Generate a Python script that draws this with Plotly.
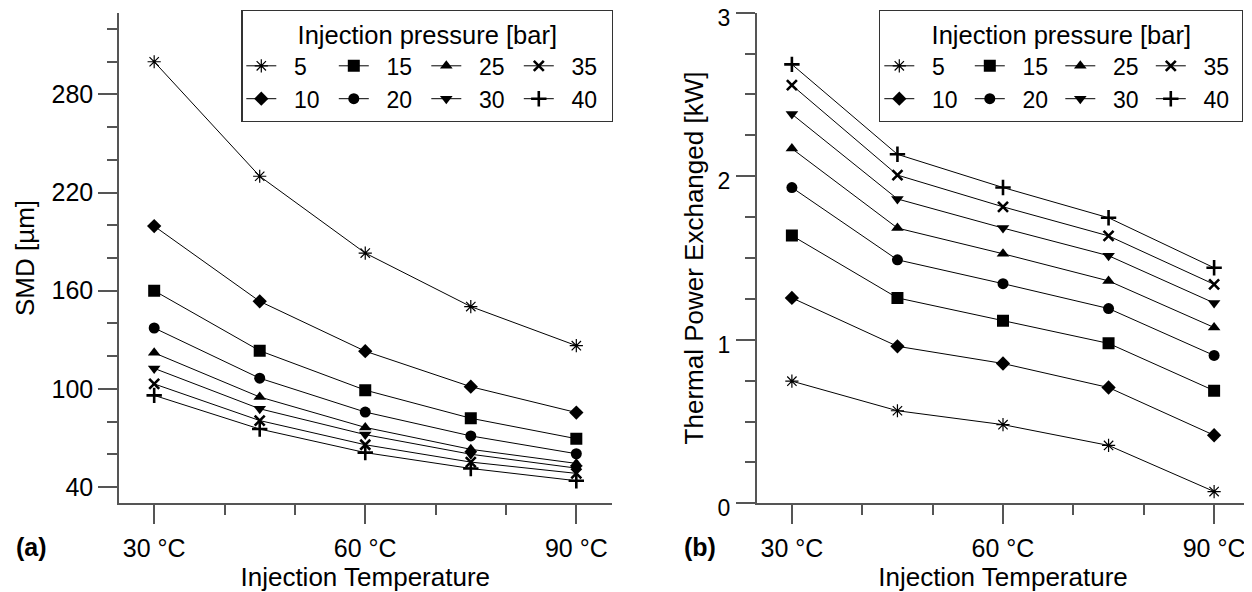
import plotly.graph_objects as go

temps = [30, 45, 60, 75, 90]
pressures = [5, 10, 15, 20, 25, 30, 35, 40]

smd = {
    5:  [300.0, 230.0, 183.0, 150.3, 126.4],
    10: [199.5, 153.5, 123.0, 101.3, 85.5],
    15: [160.0, 123.3, 99.2, 82.0, 69.5],
    20: [137.2, 106.5, 85.8, 71.2, 60.3],
    25: [122.0, 95.0, 76.4, 63.0, 54.4],
    30: [112.5, 87.8, 72.0, 60.0, 51.5],
    35: [103.0, 80.6, 65.8, 55.2, 48.3],
    40: [96.0, 75.4, 61.0, 51.3, 43.8],
}

power = {
    5:  [0.747, 0.566, 0.481, 0.354, 0.072],
    10: [1.256, 0.960, 0.855, 0.708, 0.416],
    15: [1.637, 1.256, 1.117, 0.978, 0.689],
    20: [1.931, 1.489, 1.343, 1.191, 0.904],
    25: [2.169, 1.683, 1.526, 1.360, 1.075],
    30: [2.380, 1.861, 1.683, 1.514, 1.225],
    35: [2.557, 2.007, 1.813, 1.635, 1.339],
    40: [2.684, 2.134, 1.931, 1.746, 1.440],
}

x_tickvals = [30, 60, 90]
x_ticktext = ["30 °C", "60 °C", "90 °C"]
smd_ticks = [40, 100, 160, 220, 280]
power_ticks = [0, 1, 2, 3]

markers = {
    5:  dict(symbol="asterisk-open", size=11, lw=1.2),
    10: dict(symbol="diamond", size=11, lw=0),
    15: dict(symbol="square", size=12, lw=0),
    20: dict(symbol="circle", size=11, lw=0),
    25: dict(symbol="triangle-up", size=11, lw=0),
    30: dict(symbol="triangle-down", size=11, lw=0),
    35: dict(symbol="x-thin-open", size=10, lw=2.6),
    40: dict(symbol="cross-thin-open", size=11, lw=2.6),
}
group_of = {5: "c1", 10: "c1", 15: "c2", 20: "c2", 25: "c3", 30: "c3", 35: "c4", 40: "c4"}

FONT = "Liberation Sans, Arial, sans-serif"
AX = "#555555"
W, H = 1252, 592
OFF = 8  # page body margin offset of the rendered figure

def px_x(v):
    return (v - OFF) / W

def px_y(v):
    return (H - (v - OFF)) / H

fig = go.Figure()

for panel, data, xa, ya, leg in [("a", smd, "x", "y", "legend"), ("b", power, "x2", "y2", "legend2")]:
    for p in pressures:
        m = markers[p]
        fig.add_trace(go.Scatter(
            x=temps, y=data[p], mode="lines+markers", name="\u00a0\u00a0" + str(p),
            xaxis=xa, yaxis=ya, legend=leg, legendgroup=panel + group_of[p],
            line=dict(color="black", width=1),
            marker=dict(symbol=m["symbol"], size=m["size"], color="black",
                        line=dict(color="black", width=m["lw"])),
        ))

common_x = dict(
    range=[25, 95], tickvals=x_tickvals, ticktext=x_ticktext,
    showline=True, linecolor=AX, linewidth=1.5, showgrid=False, zeroline=False,
    ticks="outside", ticklen=19, tickwidth=1.5, tickcolor=AX,
    minor=dict(dtick=10, tick0=30, ticks="outside", ticklen=10, tickwidth=1.5, tickcolor=AX, showgrid=False),
    tickfont=dict(size=25, color="black", family=FONT),
    ticklabelstandoff=3, automargin=False,
    title=dict(text="Injection Temperature", font=dict(size=26, color="black", family=FONT), standoff=5),
)
common_y = dict(
    showline=True, linecolor=AX, linewidth=1.5, showgrid=False, zeroline=False,
    ticks="outside", ticklen=19, tickwidth=1.5, tickcolor=AX,
    ticklabeloverflow="allow", automargin=False,
)

def legend_opts(entry_w):
    return dict(
        xanchor="right", yanchor="top",
        orientation="h", traceorder="grouped", entrywidth=entry_w, entrywidthmode="pixels",
        bgcolor="white", bordercolor="#333333", borderwidth=1.2, tracegroupgap=0,
        font=dict(size=23, color="black", family=FONT),
        title=dict(text="Injection pressure [bar]", side="top center",
                   font=dict(size=25.5, color="black", family=FONT)),
    )

fig.update_layout(
    width=W, height=H, autosize=False,
    margin=dict(l=0, r=0, t=0, b=0, pad=0, autoexpand=False),
    paper_bgcolor="white", plot_bgcolor="white",
    font=dict(family=FONT, color="black"),
    xaxis=dict(domain=[px_x(119), px_x(611.5)], anchor="y", **common_x),
    xaxis2=dict(domain=[px_x(756.7), px_x(1249.3)], anchor="y2", **common_x),
    yaxis=dict(domain=[px_y(503.3), px_y(12.7)], anchor="x",
               range=[30, 330], tickvals=smd_ticks, ticklabelstandoff=0,
               tickfont=dict(size=25, color="black", family=FONT),
               minor=dict(dtick=20, tick0=40, ticks="outside", ticklen=10, tickwidth=1.5, tickcolor=AX, showgrid=False),
               title=dict(text="SMD [µm]", font=dict(size=26, color="black", family=FONT), standoff=9),
               **common_y),
    yaxis2=dict(domain=[px_y(503.3), px_y(12.7)], anchor="x2",
                range=[0, 3], tickvals=power_ticks, ticklabelstandoff=1, ticklabelshift=5,
                tickfont=dict(size=23, color="black", family=FONT),
                minor=dict(dtick=0.25, tick0=0, ticks="outside", ticklen=10, tickwidth=1.5, tickcolor=AX, showgrid=False),
                title=dict(text="Thermal Power Exchanged [kW]", font=dict(size=26, color="black", family=FONT), standoff=6),
                **common_y),
    legend=dict(x=px_x(613.3), y=px_y(10), **legend_opts(47.5)),
    legend2=dict(x=px_x(1243.3), y=px_y(10), **legend_opts(45.5)),
    annotations=[
        dict(text="<b>(a)</b>", x=px_x(31), y=px_y(547), xref="paper", yref="paper",
             xanchor="center", yanchor="middle",
             showarrow=False, font=dict(size=25, color="black", family=FONT)),
        dict(text="<b>(b)</b>", x=px_x(700), y=px_y(547), xref="paper", yref="paper",
             xanchor="center", yanchor="middle",
             showarrow=False, font=dict(size=25, color="black", family=FONT)),
    ],
)

fig.write_html("out.html")
